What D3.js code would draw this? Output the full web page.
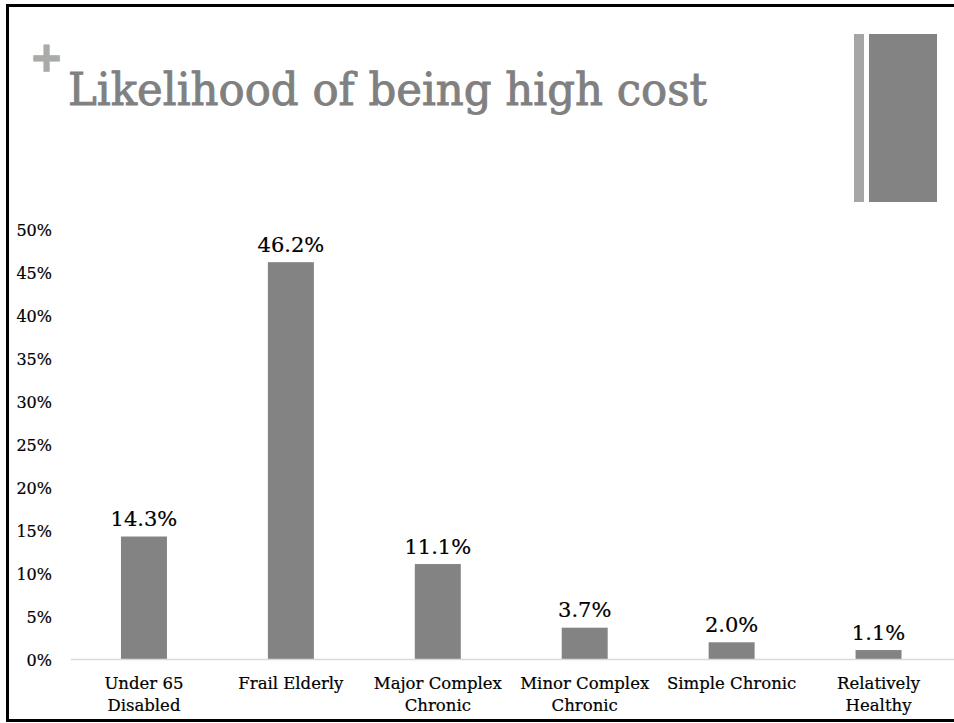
<!DOCTYPE html>
<html>
<head>
<meta charset="utf-8">
<script src="https://cdn.jsdelivr.net/npm/d3@7"></script>
<style>
  html, body { margin: 0; padding: 0; background: #fff; }
  svg { display: block; }
</style>
</head>
<body>
<svg id="chart" width="954" height="723"></svg>
<script>
const title = "Likelihood of being high cost";
const categories = [
  ["Under 65", "Disabled"],
  ["Frail Elderly"],
  ["Major Complex", "Chronic"],
  ["Minor Complex", "Chronic"],
  ["Simple Chronic"],
  ["Relatively", "Healthy"]
];
const values = [14.3, 46.2, 11.1, 3.7, 2.0, 1.1];
const valueLabels = ["14.3%", "46.2%", "11.1%", "3.7%", "2.0%", "1.1%"];
const yTicks = [0, 5, 10, 15, 20, 25, 30, 35, 40, 45, 50];

const svg = d3.select("#chart");
const font = "'DejaVu Serif', serif";

// Slide frame
svg.append("line").attr("x1", 6).attr("x2", 954).attr("y1", 5.5).attr("y2", 5.5)
  .attr("stroke", "#000").attr("stroke-width", 3);
svg.append("line").attr("x1", 7.5).attr("x2", 7.5).attr("y1", 4).attr("y2", 722)
  .attr("stroke", "#000").attr("stroke-width", 3);
svg.append("line").attr("x1", 6).attr("x2", 954).attr("y1", 720.5).attr("y2", 720.5)
  .attr("stroke", "#000").attr("stroke-width", 3);

// Decorative bars top-right
svg.append("rect").attr("x", 854).attr("y", 34).attr("width", 10).attr("height", 168).attr("fill", "#a6a6a6");
svg.append("rect").attr("x", 869).attr("y", 34).attr("width", 68).attr("height", 168).attr("fill", "#838383");

// Plus sign and title
svg.append("text").attr("x", 46.5).attr("y", 71).attr("text-anchor", "middle")
  .attr("font-family", "'DejaVu Sans', sans-serif").attr("font-weight", "bold")
  .attr("font-size", 40).attr("fill", "#aaaaaa")
  .attr("stroke", "#aaaaaa").attr("stroke-width", 1.5)
  .text("+");
svg.append("text").attr("x", 68).attr("y", 105)
  .attr("font-family", font).attr("font-size", 44).attr("fill", "#808080")
  .attr("stroke", "#808080").attr("stroke-width", 0.9)
  .attr("textLength", 639).attr("lengthAdjust", "spacingAndGlyphs")
  .text(title);

// Scales
const x = d3.scaleBand().domain(d3.range(categories.length)).range([70.5, 952]).paddingInner(0).paddingOuter(0);
const y = d3.scaleLinear().domain([0, 50]).range([659.5, 229.5]);
const barW = x.bandwidth() * 0.313;

// Y axis labels
const yAxis = d3.axisLeft(y).tickValues(yTicks).tickFormat(d => d + "%").tickSize(0).tickPadding(0);
const ya = svg.append("g").attr("transform", "translate(52,0)").call(yAxis);
ya.select(".domain").remove();
ya.selectAll("text").attr("font-family", font).attr("font-size", 16).attr("fill", "#000")
  .attr("stroke", "#000").attr("stroke-width", 0.2)
  .attr("dy", "0.36em");

// Bars
svg.append("g").selectAll("rect").data(values).join("rect")
  .attr("x", (d, i) => x(i) + x.bandwidth() / 2 - barW / 2)
  .attr("y", d => y(d))
  .attr("width", barW)
  .attr("height", d => y(0) - y(d))
  .attr("fill", "#838383");

// Baseline
svg.append("line").attr("x1", 71).attr("x2", 954).attr("y1", y(0)).attr("y2", y(0))
  .attr("stroke", "#d9d9d9").attr("stroke-width", 1.5);

// Value labels
svg.append("g").selectAll("text").data(values).join("text")
  .attr("x", (d, i) => x(i) + x.bandwidth() / 2)
  .attr("y", d => y(d) - 10.5)
  .attr("text-anchor", "middle")
  .attr("font-family", font).attr("font-size", 21).attr("fill", "#000")
  .attr("stroke", "#000").attr("stroke-width", 0.2)
  .text((d, i) => valueLabels[i]);

// Category labels
const xAxis = d3.axisBottom(x).tickSize(0).tickFormat(() => "");
const xa = svg.append("g").attr("transform", `translate(0,${y(0)})`).call(xAxis);
xa.select(".domain").remove();
xa.selectAll(".tick").each(function(d) {
  const t = d3.select(this).append("text")
    .attr("text-anchor", "middle")
    .attr("font-family", font).attr("font-size", 16.5).attr("fill", "#000")
    .attr("stroke", "#000").attr("stroke-width", 0.2);
  categories[d].forEach((line, j) => {
    t.append("tspan").attr("x", 0).attr("y", 29 + j * 22).text(line);
  });
});
</script>
</body>
</html>
